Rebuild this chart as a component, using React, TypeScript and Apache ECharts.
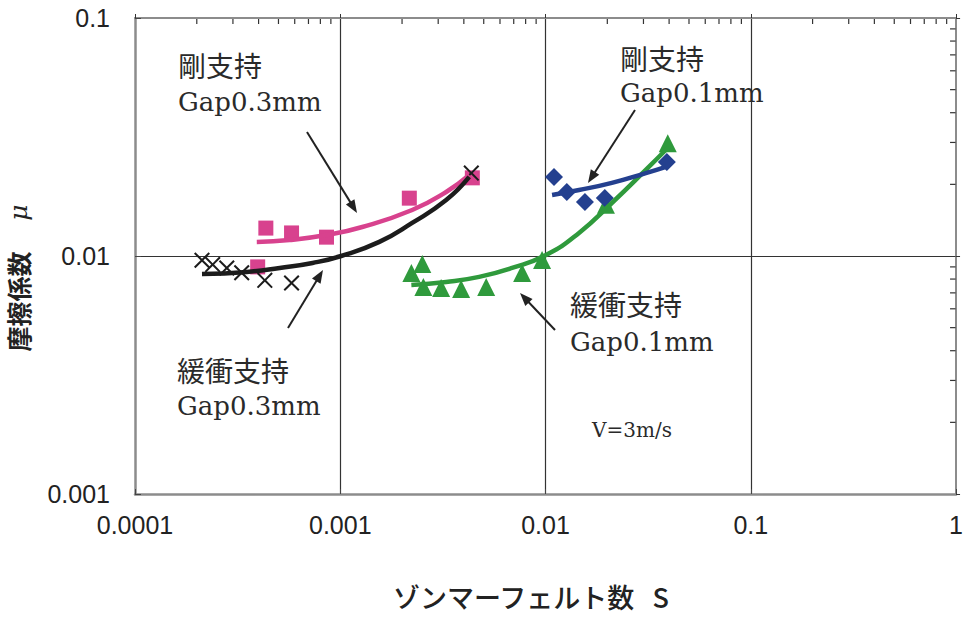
import React, { useEffect, useRef } from 'react';
import * as echarts from 'echarts';

const xTickLabels = ['0.0001', '0.001', '0.01', '0.1', '1'];
const yTickLabels = ['0.001', '0.01', '0.1'];

// 剛支持 Gap0.3mm (magenta squares)
const rigid03X = [3.96e-4, 4.34e-4, 5.79e-4, 8.57e-4, 2.17e-3, 4.4e-3];
const rigid03Y = [0.009, 0.0131, 0.0125, 0.012, 0.0175, 0.0213];
const rigid03FitX = [3.92e-4, 5.66e-4, 8.57e-4, 1.28e-3, 2.24e-3, 3.28e-3, 4.25e-3];
const rigid03FitY = [0.01146, 0.01167, 0.01225, 0.01324, 0.0156, 0.01858, 0.02188];

// 緩衝支持 Gap0.3mm (black crosses)
const damp03X = [2.12e-4, 2.39e-4, 2.8e-4, 3.31e-4, 4.29e-4, 5.79e-4, 4.35e-3];
const damp03Y = [0.0096, 0.0092, 0.0089, 0.0085, 0.0079, 0.0077, 0.0223];
const damp03FitX = [2.12e-4, 3.5e-4, 5.07e-4, 7.33e-4, 1.01e-3, 1.55e-3, 2.24e-3, 3.28e-3, 4.25e-3];
const damp03FitY = [0.0084, 0.00857, 0.00891, 0.00935, 0.01, 0.01146, 0.01377, 0.01718, 0.0215];

// 緩衝支持 Gap0.1mm (green triangles)
const damp01X = [2.22e-3, 2.51e-3, 2.54e-3, 3.1e-3, 3.88e-3, 5.14e-3, 7.69e-3, 9.62e-3, 0.0197, 0.0394];
const damp01Y = [0.00849, 0.00925, 0.00741, 0.00734, 0.00727, 0.00741, 0.00849, 0.00962, 0.0164, 0.0298];
const damp01FitX = [2.22e-3, 3.28e-3, 4.75e-3, 6.87e-3, 0.01005, 0.01456, 0.02104, 0.0308, 0.0398];
const damp01FitY = [0.00755, 0.00778, 0.00817, 0.00891, 0.0101, 0.0125, 0.0167, 0.023, 0.0287];

// 剛支持 Gap0.1mm (blue diamonds)
const rigid01X = [0.011, 0.0127, 0.01556, 0.01945, 0.039];
const rigid01Y = [0.02148, 0.01858, 0.01686, 0.01754, 0.0248];
const rigid01FitX = [0.01076, 0.01456, 0.02104, 0.0308, 0.0386];
const rigid01FitY = [0.01804, 0.01893, 0.0203, 0.0223, 0.0237];

const MAGENTA = '#d8428e';
const BLACK = '#1c1c1c';
const GREEN = '#2f9a3c';
const BLUE = '#24408f';

const pairs = (xs: number[], ys: number[]) => xs.map((x, i) => [x, ys[i]]);

const labelFor = (labels: string[]) => (v: number) => {
  const hit = labels.find((l) => Math.abs(Math.log10(Number(l)) - Math.log10(v)) < 1e-6);
  return hit ?? '';
};

const CROSS = 'path://M0,9L9,0L50,41L91,0L100,9L59,50L100,91L91,100L50,59L9,100L0,91L41,50Z';

const SERIF = "'DejaVu Serif', 'Liberation Serif', serif";
const CJK = "'Noto Sans CJK JP', sans-serif";

function arrow(x1: number, y1: number, x2: number, y2: number) {
  const dx = x2 - x1;
  const dy = y2 - y1;
  const len = Math.hypot(dx, dy);
  const ux = dx / len;
  const uy = dy / len;
  const hl = 13;
  const hw = 5;
  const bx = x2 - ux * hl;
  const by = y2 - uy * hl;
  return [
    { type: 'line', shape: { x1, y1, x2: bx + ux * 2, y2: by + uy * 2 }, style: { stroke: '#222', lineWidth: 2 } },
    {
      type: 'polygon',
      shape: { points: [[x2, y2], [bx - uy * hw, by + ux * hw], [bx + uy * hw, by - ux * hw]] },
      style: { fill: '#222' },
    },
  ];
}

function jp(text: string, x: number, y: number) {
  return {
    type: 'text',
    x,
    y,
    style: { text, font: `28px ${CJK}`, fill: '#2a2a2a', textAlign: 'left', textVerticalAlign: 'middle' },
  };
}
function lat(text: string, x: number, y: number, size = 26) {
  return {
    type: 'text',
    x,
    y,
    style: { text, font: `${size}px ${SERIF}`, fill: '#2a2a2a', textAlign: 'left', textVerticalAlign: 'middle' },
  };
}

const fitLine = (color: string, xs: number[], ys: number[]) => ({
  type: 'line',
  smooth: true,
  showSymbol: false,
  lineStyle: { color, width: 4.5 },
  data: pairs(xs, ys),
  z: 3,
});

export default function App() {
  const ref = useRef<HTMLDivElement>(null);
  useEffect(() => {
    document.body.style.margin = '0';
    if (!ref.current) return;
    const chart = echarts.init(ref.current, null, { renderer: 'svg' });
    const axisGray = '#8c8c8c';
    const tickFont = { fontFamily: "'Liberation Sans', Arial, sans-serif", fontSize: 25, color: '#222' };
    const option: any = {
      animation: false,
      backgroundColor: '#fff',
      grid: { left: 135, right: 8, top: 18, bottom: 125 },
      xAxis: [
        {
          type: 'log',
          logBase: 10,
          min: 0.0001,
          max: 1,
          position: 'bottom',
          axisLine: { onZero: false, lineStyle: { color: axisGray, width: 2.5 } },
          axisTick: { show: true, inside: true, length: 5, lineStyle: { color: '#444' } },
          axisLabel: { ...tickFont, margin: 18, formatter: labelFor(xTickLabels) },
          splitLine: { show: true, showMinLine: false, showMaxLine: false, lineStyle: { color: '#333', width: 1.2 } },
        },
        {
          type: 'log',
          logBase: 10,
          min: 0.0001,
          max: 1,
          position: 'top',
          axisLine: { onZero: false, lineStyle: { color: axisGray, width: 2 } },
          axisTick: { show: true, inside: false, length: 4, lineStyle: { color: '#333' } },
          axisLabel: { show: false },
          splitLine: { show: false },
        },
      ],
      yAxis: [
        {
          type: 'log',
          logBase: 10,
          min: 0.001,
          max: 0.1,
          position: 'left',
          axisLine: { onZero: false, lineStyle: { color: axisGray, width: 2.5 } },
          axisTick: { show: true, inside: true, length: 6, lineStyle: { color: '#444' } },
          axisLabel: { ...tickFont, margin: 25, formatter: labelFor(yTickLabels) },
          splitLine: { show: true, showMinLine: false, showMaxLine: false, lineStyle: { color: '#333', width: 1.2 } },
        },
        {
          type: 'log',
          logBase: 10,
          min: 0.001,
          max: 0.1,
          position: 'right',
          axisLine: { onZero: false, lineStyle: { color: '#666', width: 1.5 } },
          axisTick: { show: true, inside: false, length: 4, lineStyle: { color: '#333' } },
          axisLabel: { show: false },
          splitLine: { show: false },
        },
      ],
      series: [
        {
          name: '剛支持 Gap0.3mm',
          type: 'scatter',
          symbol: 'rect',
          symbolSize: 15,
          itemStyle: { color: MAGENTA, opacity: 1 },
          data: pairs(rigid03X, rigid03Y),
          z: 2,
        },
        {
          name: '緩衝支持 Gap0.3mm',
          type: 'scatter',
          symbol: CROSS,
          symbolSize: 16,
          itemStyle: { color: BLACK, opacity: 1 },
          data: pairs(damp03X, damp03Y),
          z: 2,
        },
        {
          name: '緩衝支持 Gap0.1mm',
          type: 'scatter',
          symbol: 'triangle',
          symbolSize: 18,
          itemStyle: { color: GREEN, opacity: 1 },
          data: pairs(damp01X, damp01Y),
          z: 2,
        },
        {
          name: '剛支持 Gap0.1mm',
          type: 'scatter',
          symbol: 'diamond',
          symbolSize: 18,
          itemStyle: { color: BLUE, opacity: 1 },
          data: pairs(rigid01X, rigid01Y),
          z: 2,
        },
        fitLine(MAGENTA, rigid03FitX, rigid03FitY),
        fitLine(BLACK, damp03FitX, damp03FitY),
        fitLine(GREEN, damp01FitX, damp01FitY),
        fitLine(BLUE, rigid01FitX, rigid01FitY),
      ],
    };
    chart.setOption(option);

    // minor ticks on top and right axes, positioned through the axis scales
    const top = chart.convertToPixel({ yAxisIndex: 0 }, 0.1) as number;
    const right = chart.convertToPixel({ xAxisIndex: 0 }, 1) as number;
    const minor: any[] = [];
    for (let k = -4; k <= -1; k++) {
      for (let m = 2; m <= 9; m++) {
        const px = chart.convertToPixel({ xAxisIndex: 0 }, m * Math.pow(10, k)) as number;
        minor.push({ type: 'line', shape: { x1: px, y1: top, x2: px, y2: top + 6 }, style: { stroke: '#333', lineWidth: 1.2 } });
      }
    }
    for (let k = -3; k <= -2; k++) {
      for (let m = 2; m <= 9; m++) {
        const py = chart.convertToPixel({ yAxisIndex: 0 }, m * Math.pow(10, k)) as number;
        minor.push({ type: 'line', shape: { x1: right - 6, y1: py, x2: right, y2: py }, style: { stroke: '#333', lineWidth: 1.2 } });
      }
    }

    const graphics: any[] = [
      ...minor,
      jp('剛支持', 178, 65),
      lat('Gap0.3mm', 178, 102),
      ...arrow(307, 132, 357, 213),
      jp('剛支持', 620, 58),
      lat('Gap0.1mm', 620, 93),
      ...arrow(635, 110, 588, 183),
      jp('緩衝支持', 570, 304),
      lat('Gap0.1mm', 570, 342),
      ...arrow(555, 330, 520, 293),
      jp('緩衝支持', 177, 370),
      lat('Gap0.3mm', 177, 406),
      ...arrow(288, 328, 323, 270),
      lat('V=3m/s', 592, 430, 20),
      {
        type: 'text',
        x: 18,
        y: 278,
        rotation: Math.PI / 2,
        style: {
          text: '摩擦係数\u3000 {i|μ}',
          font: `bold 25px ${CJK}`,
          fill: '#222',
          textAlign: 'center',
          textVerticalAlign: 'middle',
          rich: { i: { fontFamily: SERIF, fontStyle: 'italic', fontSize: 25, fill: '#222' } },
        },
      },
      {
        type: 'text',
        x: 531,
        y: 596,
        style: {
          text: 'ゾンマーフェルト数   S',
          font: `500 27px ${CJK}`,
          fill: '#222',
          textAlign: 'center',
          textVerticalAlign: 'middle',
        },
      },
    ];
    chart.setOption({ graphic: graphics });

    return () => chart.dispose();
  }, []);
  return <div ref={ref} style={{ width: 966, height: 619 }} />;
}
